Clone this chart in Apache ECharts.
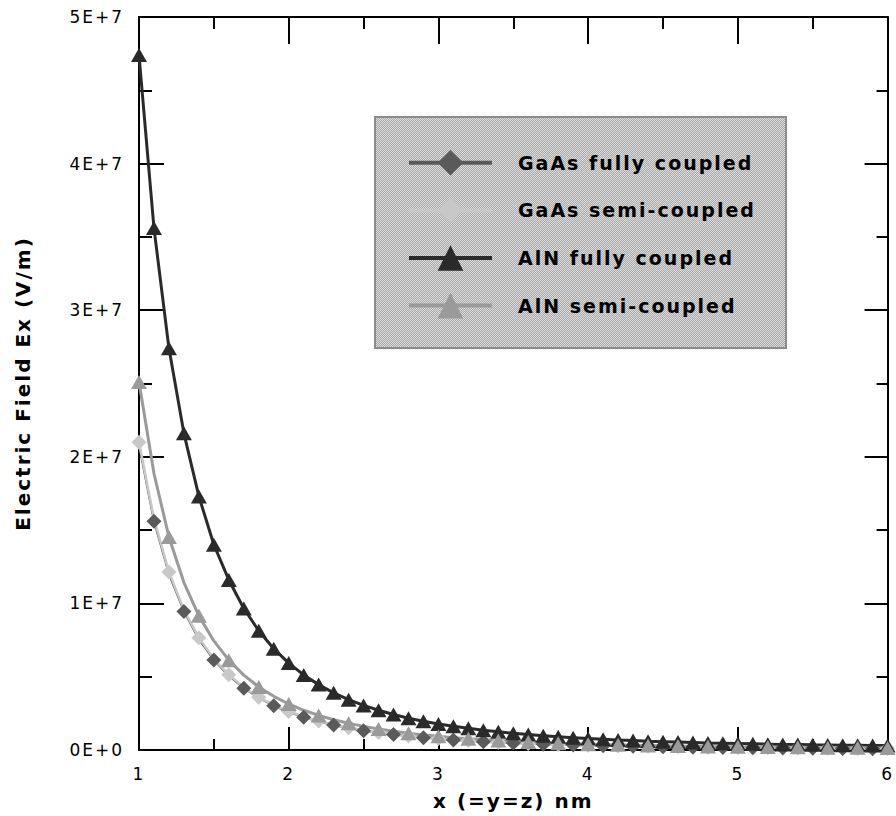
<!DOCTYPE html>
<html>
<head>
<meta charset="utf-8">
<script src="https://cdn.jsdelivr.net/npm/echarts@6/dist/echarts.min.js"></script>
<style>
  html, body { margin: 0; padding: 0; background: #fff; }
  #chart { width: 896px; height: 816px; }
  #chart svg text { letter-spacing: 2px; }
</style>
</head>
<body>
<div id="chart"></div>
<script>
// Distance from the origin, nm
const xValues = [
  1.0, 1.1, 1.2, 1.3, 1.4, 1.5, 1.6, 1.7, 1.8, 1.9,
  2.0, 2.1, 2.2, 2.3, 2.4, 2.5, 2.6, 2.7, 2.8, 2.9,
  3.0, 3.1, 3.2, 3.3, 3.4, 3.5, 3.6, 3.7, 3.8, 3.9,
  4.0, 4.1, 4.2, 4.3, 4.4, 4.5, 4.6, 4.7, 4.8, 4.9,
  5.0, 5.1, 5.2, 5.3, 5.4, 5.5, 5.6, 5.7, 5.8, 5.9,
  6.0
];

// Electric field Ex, V/m
const gaasFully = [
  20.8e6, 15.6e6, 12.0e6, 9.45e6, 7.55e6, 6.14e6, 5.06e6, 4.21e6, 3.55e6, 3.02e6,
  2.59e6, 2.24e6, 1.94e6, 1.70e6, 1.49e6, 1.32e6, 1.17e6, 1.05e6, 0.94e6, 0.84e6,
  0.76e6, 0.69e6, 0.63e6, 0.57e6, 0.52e6, 0.47e6, 0.43e6, 0.40e6, 0.37e6, 0.34e6,
  0.31e6, 0.29e6, 0.27e6, 0.25e6, 0.23e6, 0.22e6, 0.20e6, 0.19e6, 0.18e6, 0.17e6,
  0.16e6, 0.15e6, 0.14e6, 0.13e6, 0.12e6, 0.12e6, 0.11e6, 0.10e6, 0.10e6, 0.09e6,
  0.09e6
];
const gaasSemi = [
  21.0e6, 15.78e6, 12.15e6, 9.56e6, 7.65e6, 6.22e6, 5.13e6, 4.27e6, 3.60e6, 3.06e6,
  2.63e6, 2.27e6, 1.97e6, 1.73e6, 1.52e6, 1.34e6, 1.19e6, 1.07e6, 0.96e6, 0.86e6,
  0.78e6, 0.71e6, 0.64e6, 0.59e6, 0.53e6, 0.49e6, 0.45e6, 0.41e6, 0.38e6, 0.35e6,
  0.33e6, 0.30e6, 0.28e6, 0.26e6, 0.25e6, 0.23e6, 0.22e6, 0.20e6, 0.19e6, 0.18e6,
  0.17e6, 0.16e6, 0.15e6, 0.14e6, 0.13e6, 0.13e6, 0.12e6, 0.11e6, 0.11e6, 0.10e6,
  0.10e6
];
const alnFully = [
  47.4e6, 35.6e6, 27.4e6, 21.6e6, 17.3e6, 14.0e6, 11.6e6, 9.65e6, 8.13e6, 6.91e6,
  5.93e6, 5.12e6, 4.46e6, 3.90e6, 3.43e6, 3.04e6, 2.71e6, 2.42e6, 2.17e6, 1.96e6,
  1.78e6, 1.62e6, 1.48e6, 1.35e6, 1.24e6, 1.14e6, 1.05e6, 0.97e6, 0.90e6, 0.84e6,
  0.78e6, 0.73e6, 0.68e6, 0.64e6, 0.60e6, 0.57e6, 0.54e6, 0.51e6, 0.48e6, 0.46e6,
  0.44e6, 0.42e6, 0.40e6, 0.38e6, 0.37e6, 0.35e6, 0.34e6, 0.33e6, 0.32e6, 0.31e6,
  0.30e6
];
const alnSemi = [
  25.1e6, 18.86e6, 14.53e6, 11.42e6, 9.15e6, 7.44e6, 6.13e6, 5.11e6, 4.30e6, 3.66e6,
  3.14e6, 2.71e6, 2.36e6, 2.06e6, 1.82e6, 1.61e6, 1.43e6, 1.28e6, 1.14e6, 1.03e6,
  0.93e6, 0.84e6, 0.77e6, 0.70e6, 0.64e6, 0.59e6, 0.54e6, 0.50e6, 0.46e6, 0.43e6,
  0.40e6, 0.37e6, 0.35e6, 0.33e6, 0.31e6, 0.29e6, 0.27e6, 0.26e6, 0.24e6, 0.23e6,
  0.22e6, 0.21e6, 0.20e6, 0.19e6, 0.18e6, 0.17e6, 0.16e6, 0.16e6, 0.15e6, 0.14e6,
  0.14e6
];

const seriesNames = ['GaAs fully coupled', 'GaAs semi-coupled', 'AlN fully coupled', 'AlN semi-coupled'];
const xTickLabels = ['1', '2', '3', '4', '5', '6'];
const yTickLabels = ['0E+0', '1E+7', '2E+7', '3E+7', '4E+7', '5E+7'];

const FONT = '"DejaVu Sans", sans-serif';

// Pair x with y; markers are drawn on every point (step 1) or every other
// point starting at the given offset (step 2).
function points(values, step, offset) {
  return xValues.map((x, i) => {
    if (step === 1 || i % step === offset) return [x, values[i]];
    return { value: [x, values[i]], symbol: 'none' };
  });
}

// Fine two-tone checker used as the legend panel fill
function checker() {
  const c = document.createElement('canvas');
  c.width = 2; c.height = 2;
  const g = c.getContext('2d');
  g.fillStyle = '#dcdcdc'; g.fillRect(0, 0, 2, 2);
  g.fillStyle = '#a8a8a8'; g.fillRect(1, 0, 1, 1); g.fillRect(0, 1, 1, 1);
  return c.toDataURL();
}

const chart = echarts.init(document.getElementById('chart'), null, { renderer: 'svg' });

const axisLine = { show: true, onZero: false, lineStyle: { color: '#000', width: 2 } };
const tickStyle = { color: '#000', width: 2 };

chart.setOption({
  animation: false,
  backgroundColor: '#fff',
  grid: { left: 139, right: 2, top: 17, bottom: 66, containLabel: false },
  graphic: [{
    type: 'rect',
    z: 1,
    shape: { x: 375, y: 117, width: 411, height: 231 },
    style: {
      fill: { image: checker(), repeat: 'repeat', imageWidth: 2, imageHeight: 2 },
      stroke: '#8c8c8c',
      lineWidth: 2
    }
  }],
  legend: {
    z: 5,
    orient: 'vertical',
    left: 407,
    top: 150,
    padding: 0,
    itemWidth: 83,
    itemHeight: 32,
    itemGap: 22,
    data: seriesNames,
    lineStyle: { width: 4 },
    textStyle: {
      fontFamily: FONT, fontWeight: 'bold', fontSize: 19, color: '#000',
      padding: [0, 0, 0, 21]
    }
  },
  xAxis: [{
    type: 'value', min: 1, max: 6, interval: 1, position: 'bottom',
    name: 'x (=y=z) nm', nameLocation: 'middle', nameGap: 41,
    nameTextStyle: { fontFamily: FONT, fontWeight: 'bold', fontSize: 20, color: '#000' },
    axisLine: axisLine,
    axisTick: { show: true, inside: true, length: 23, lineStyle: tickStyle },
    minorTick: { show: true, splitNumber: 2, length: 11, lineStyle: tickStyle },
    splitLine: { show: false },
    axisLabel: {
      margin: 15, fontFamily: FONT, fontSize: 17, color: '#000',
      formatter: (v) => xTickLabels[Math.round(v) - 1]
    }
  }, {
    type: 'value', min: 1, max: 6, interval: 1, position: 'top',
    axisLine: axisLine,
    axisTick: { show: true, inside: true, length: 27, lineStyle: tickStyle },
    minorTick: { show: true, splitNumber: 2, length: 12, lineStyle: tickStyle },
    splitLine: { show: false },
    axisLabel: { show: false }
  }],
  yAxis: [{
    type: 'value', min: 0, max: 5e7, interval: 1e7, position: 'left',
    name: 'Electric Field Ex (V/m)', nameLocation: 'middle', nameGap: 106,
    nameTextStyle: { fontFamily: FONT, fontWeight: 'bold', fontSize: 20, color: '#000' },
    axisLine: axisLine,
    axisTick: { show: true, inside: true, length: 25, lineStyle: tickStyle },
    minorTick: { show: true, splitNumber: 2, length: 13, lineStyle: tickStyle },
    splitLine: { show: false },
    axisLabel: {
      margin: 15, fontFamily: FONT, fontSize: 17, color: '#000',
      formatter: (v) => yTickLabels[Math.round(v / 1e7)]
    }
  }, {
    type: 'value', min: 0, max: 5e7, interval: 1e7, position: 'right',
    axisLine: axisLine,
    axisTick: { show: true, inside: true, length: 23, lineStyle: tickStyle },
    minorTick: { show: true, splitNumber: 2, length: 11, lineStyle: tickStyle },
    splitLine: { show: false },
    axisLabel: { show: false }
  }],
  series: [{
    name: seriesNames[0], type: 'line', xAxisIndex: 0, yAxisIndex: 0,
    data: points(gaasFully, 2, 1),
    symbol: 'diamond', symbolSize: 15,
    itemStyle: { color: '#5a5a5a' },
    lineStyle: { color: '#5a5a5a', width: 2 }
  }, {
    name: seriesNames[1], type: 'line', xAxisIndex: 0, yAxisIndex: 0,
    data: points(gaasSemi, 2, 0),
    symbol: 'diamond', symbolSize: 15,
    itemStyle: { color: '#c8c8c8' },
    lineStyle: { color: '#c8c8c8', width: 2.5 }
  }, {
    name: seriesNames[2], type: 'line', xAxisIndex: 0, yAxisIndex: 0,
    data: points(alnFully, 1, 0),
    symbol: 'triangle', symbolSize: [16, 14],
    itemStyle: { color: '#2a2a2a' },
    lineStyle: { color: '#2a2a2a', width: 3 }
  }, {
    name: seriesNames[3], type: 'line', xAxisIndex: 0, yAxisIndex: 0,
    data: points(alnSemi, 2, 0),
    symbol: 'triangle', symbolSize: [16, 14],
    itemStyle: { color: '#9a9a9a' },
    lineStyle: { color: '#9a9a9a', width: 3 }
  }]
});
</script>
</body>
</html>
